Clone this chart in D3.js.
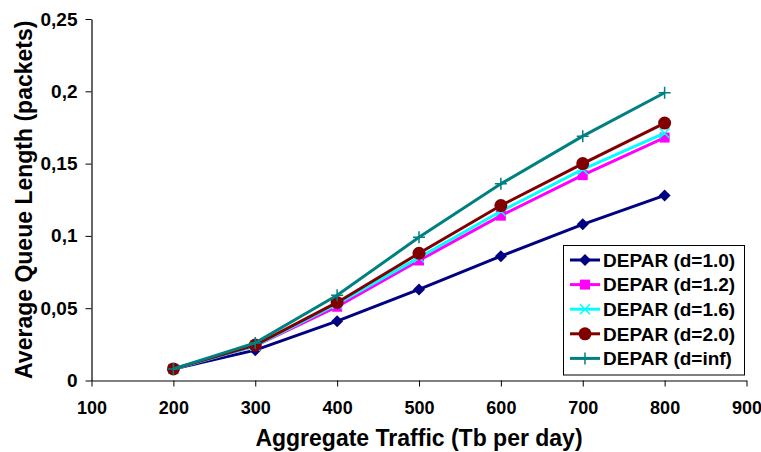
<!DOCTYPE html>
<html>
<head>
<meta charset="utf-8">
<script src="https://cdn.jsdelivr.net/npm/d3@7"></script>
<style>
  body { margin: 0; background: #fff; }
  text { font-family: "Liberation Sans", Arial, sans-serif; font-weight: bold; fill: #000; }
</style>
</head>
<body>
<div id="chart"></div>
<script>
// data
const traffic = [200, 300, 400, 500, 600, 700, 800];
const seriesNames = ["DEPAR (d=1.0)", "DEPAR (d=1.2)", "DEPAR (d=1.6)", "DEPAR (d=2.0)", "DEPAR (d=inf)"];
const queueD10 = [0.008, 0.021, 0.041, 0.063, 0.086, 0.108, 0.128];
const queueD12 = [0.008, 0.024, 0.051, 0.083, 0.114, 0.142, 0.168];
const queueD16 = [0.008, 0.024, 0.053, 0.085, 0.117, 0.146, 0.171];
const queueD20 = [0.008, 0.0245, 0.054, 0.088, 0.121, 0.150, 0.178];
const queueInf = [0.008, 0.026, 0.059, 0.099, 0.136, 0.169, 0.199];
const xTickValues = [100, 200, 300, 400, 500, 600, 700, 800, 900];
const yTickValues = [0, 0.05, 0.1, 0.15, 0.2, 0.25];
const yTickLabels = ["0", "0,05", "0,1", "0,15", "0,2", "0,25"];

const colors = ["#000080", "#ff00ff", "#00ffff", "#800000", "#008080"];
const markers = ["diamond", "square", "cross", "circle", "plus"];
const allValues = [queueD10, queueD12, queueD16, queueD20, queueInf];

const width = 761, height = 452;
const margin = { top: 19, right: 14.5, bottom: 71.5, left: 91.5 };

const svg = d3.select("#chart").append("svg")
  .attr("width", width)
  .attr("height", height);

const x = d3.scaleLinear()
  .domain([100, 900])
  .range([margin.left, width - margin.right]);

const y = d3.scaleLinear()
  .domain([0, 0.25])
  .range([height - margin.bottom, margin.top]);

// axes
svg.append("g")
  .attr("transform", `translate(0,${y(0)})`)
  .call(d3.axisBottom(x).tickValues(xTickValues).tickSize(6).tickPadding(15).tickSizeOuter(0))
  .call(g => g.selectAll("text").style("font-size", "18px").style("font-family", "Liberation Sans, Arial, sans-serif").style("font-weight", "bold"))
  .call(g => g.select(".domain").attr("stroke", "#000").attr("stroke-width", 1.2));

svg.append("g")
  .attr("transform", `translate(${x(100)},0)`)
  .call(d3.axisLeft(y).tickValues(yTickValues).tickFormat((d, i) => yTickLabels[i]).tickSize(6).tickPadding(8).tickSizeOuter(0))
  .call(g => g.selectAll("text").style("font-size", "19px").style("font-family", "Liberation Sans, Arial, sans-serif").style("font-weight", "bold"))
  .call(g => g.select(".domain").attr("stroke", "#000").attr("stroke-width", 1.2));

// axis titles
svg.append("text")
  .attr("x", (x(100) + x(900)) / 2)
  .attr("y", 446)
  .attr("text-anchor", "middle")
  .style("font-size", "23px")
  .text("Aggregate Traffic (Tb per day)");

svg.append("text")
  .attr("transform", `translate(32,${(y(0) + y(0.25)) / 2}) rotate(-90)`)
  .attr("text-anchor", "middle")
  .style("font-size", "23px")
  .text("Average Queue Length (packets)");

function drawMarker(g, type, color) {
  if (type === "diamond") {
    g.append("path").attr("d", "M0,-6L6,0L0,6L-6,0Z").attr("fill", color);
  } else if (type === "square") {
    g.append("rect").attr("x", -5).attr("y", -5).attr("width", 10).attr("height", 10).attr("fill", color);
  } else if (type === "cross") {
    g.append("path").attr("d", "M-5,-5L5,5M-5,5L5,-5").attr("stroke", color).attr("stroke-width", 1.5);
  } else if (type === "circle") {
    g.append("circle").attr("r", 6.5).attr("fill", color);
  } else if (type === "plus") {
    g.append("path").attr("d", "M-6,0L6,0M0,-6L0,6").attr("stroke", color).attr("stroke-width", 1.5);
  }
}

const line = d3.line()
  .x((d, i) => x(traffic[i]))
  .y(d => y(d));

allValues.forEach((vals, s) => {
  const g = svg.append("g");
  g.append("path")
    .attr("d", line(vals))
    .attr("fill", "none")
    .attr("stroke", colors[s])
    .attr("stroke-width", 3);
  g.selectAll("g.pt")
    .data(vals)
    .join("g")
    .attr("class", "pt")
    .attr("transform", (d, i) => `translate(${x(traffic[i])},${y(d)})`)
    .each(function () { drawMarker(d3.select(this), markers[s], colors[s]); });
});

// legend
const legend = svg.append("g");
legend.append("rect")
  .attr("x", 563.5).attr("y", 245.5)
  .attr("width", 181).attr("height", 129.5)
  .attr("fill", "#fff")
  .attr("stroke", "#000")
  .attr("stroke-width", 1);

seriesNames.forEach((name, s) => {
  const ry = 260 + s * 24.6;
  const row = legend.append("g").attr("transform", `translate(0,${ry})`);
  row.append("line")
    .attr("x1", 570).attr("x2", 600)
    .attr("stroke", colors[s]).attr("stroke-width", 3);
  const m = row.append("g").attr("transform", "translate(585,0)");
  drawMarker(m, markers[s], colors[s]);
  row.append("text")
    .attr("x", 603)
    .attr("y", 6.8)
    .style("font-size", "19px")
    .text(name);
});
</script>
</body>
</html>
